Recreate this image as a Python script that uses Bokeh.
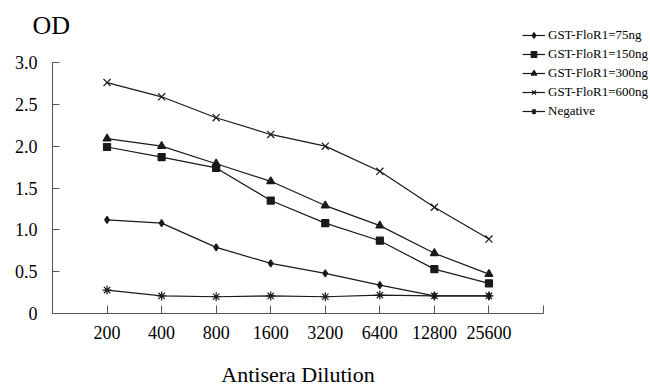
from bokeh.plotting import figure
from bokeh.models import Range1d, FixedTicker, CustomJSTickFormatter, Label, Legend, LegendItem
from bokeh.embed import file_html
from bokeh.resources import INLINE

# ---- data ----
dilutions = ["200", "400", "800", "1600", "3200", "6400", "12800", "25600"]
od_75 = [1.12, 1.08, 0.79, 0.60, 0.48, 0.34, 0.21, 0.21]
od_150 = [1.99, 1.87, 1.74, 1.35, 1.08, 0.87, 0.53, 0.36]
od_300 = [2.09, 2.00, 1.79, 1.58, 1.29, 1.05, 0.72, 0.47]
od_600 = [2.76, 2.59, 2.34, 2.14, 2.00, 1.70, 1.27, 0.89]
od_neg = [0.28, 0.21, 0.20, 0.21, 0.20, 0.22, 0.21, 0.21]
series_names = ["GST-FloR1=75ng", "GST-FloR1=150ng", "GST-FloR1=300ng",
                "GST-FloR1=600ng", "Negative"]
y_ticks = [0, 0.5, 1.0, 1.5, 2.0, 2.5, 3.0]

FONT = "Liberation Serif"
INK = "#1a1a1a"
AX = "#555555"

# ---- layout (pixels) ----
W, H = 650, 388
ORIGIN_X, ORIGIN_Y = 52, 75            # axis origin from canvas left / bottom
AX_X_END = len(dilutions) + 1          # x axis runs 0..9
AX_Y_END = 3.0                         # y axis runs 0..3
AX_X_PX = 491                          # drawn length of x axis
AX_Y_PX = 251                          # drawn length of y axis

xpos = list(range(1, len(dilutions) + 1))

sx = AX_X_PX / AX_X_END
sy = AX_Y_PX / AX_Y_END
x_range = Range1d(-ORIGIN_X / sx, (W - ORIGIN_X) / sx)
y_range = Range1d(-ORIGIN_Y / sy, (H - ORIGIN_Y) / sy)

p = figure(width=W, height=H, output_backend="svg", toolbar_location=None,
           x_range=x_range, y_range=y_range,
           min_border_left=0, min_border_right=0, min_border_top=0,
           min_border_bottom=0)
p.outline_line_color = None
p.xgrid.visible = False
p.ygrid.visible = False
p.background_fill_color = "white"
p.border_fill_color = "white"

# axes (drawn at the data origin)
xa = p.xaxis[0]
xa.fixed_location = 0
xa.bounds = (0, AX_X_END)
xa.ticker = FixedTicker(ticks=xpos + [AX_X_END])
xa.major_label_overrides = {**{i + 1: d for i, d in enumerate(dilutions)}, AX_X_END: ""}
xa.axis_label = "Antisera Dilution"
xa.axis_label_text_font = FONT
xa.axis_label_text_font_size = "22px"
xa.axis_label_text_font_style = "normal"
xa.axis_label_text_color = "black"
xa.axis_label_standoff = 20
xa.major_label_text_font = FONT
xa.major_label_text_font_size = "18px"
xa.major_label_text_color = "black"
xa.major_label_standoff = 12
xa.major_tick_in = 8
xa.major_tick_out = 0
xa.minor_tick_line_color = None
xa.axis_line_color = AX
xa.major_tick_line_color = AX

ya = p.yaxis[0]
ya.fixed_location = 0
ya.bounds = (0, AX_Y_END)
ya.ticker = FixedTicker(ticks=y_ticks)
ya.formatter = CustomJSTickFormatter(code="return tick == 0 ? '0' : tick.toFixed(1);")
ya.major_label_text_font = FONT
ya.major_label_text_font_size = "18px"
ya.major_label_text_color = "black"
ya.major_label_standoff = 15
ya.major_tick_in = 7
ya.major_tick_out = 0
ya.minor_tick_line_color = None
ya.axis_line_color = AX
ya.major_tick_line_color = AX

# series
specs = [
    (od_75, "diamond", 7),
    (od_150, "square", 7),
    (od_300, "triangle", 8),
    (od_600, "x", 10),
    (od_neg, "asterisk", 9),
]
items = []
for name, (vals, marker, size) in zip(series_names, specs):
    l = p.line(xpos, vals, line_color=INK, line_width=1.2)
    s = p.scatter(xpos, vals, marker=marker, size=size, line_color=INK,
                  fill_color=INK, line_width=1.2)
    items.append(LegendItem(label=name, renderers=[l, s]))

legend = Legend(items=items, location=(522, 269), orientation="vertical",
                label_text_font=FONT, label_text_font_size="13px",
                label_text_color="black", label_height=14, glyph_height=14,
                glyph_width=23, label_standoff=3, spacing=3, padding=0,
                margin=0, border_line_color=None, background_fill_alpha=0)
p.add_layout(legend, "center")

od = Label(x=0, y=AX_Y_END, x_offset=-20, y_offset=37, text="OD",
           text_font=FONT, text_font_size="26px", text_color="black",
           text_baseline="alphabetic")
p.add_layout(od)

open("out.html", "w").write(file_html(p, INLINE))
